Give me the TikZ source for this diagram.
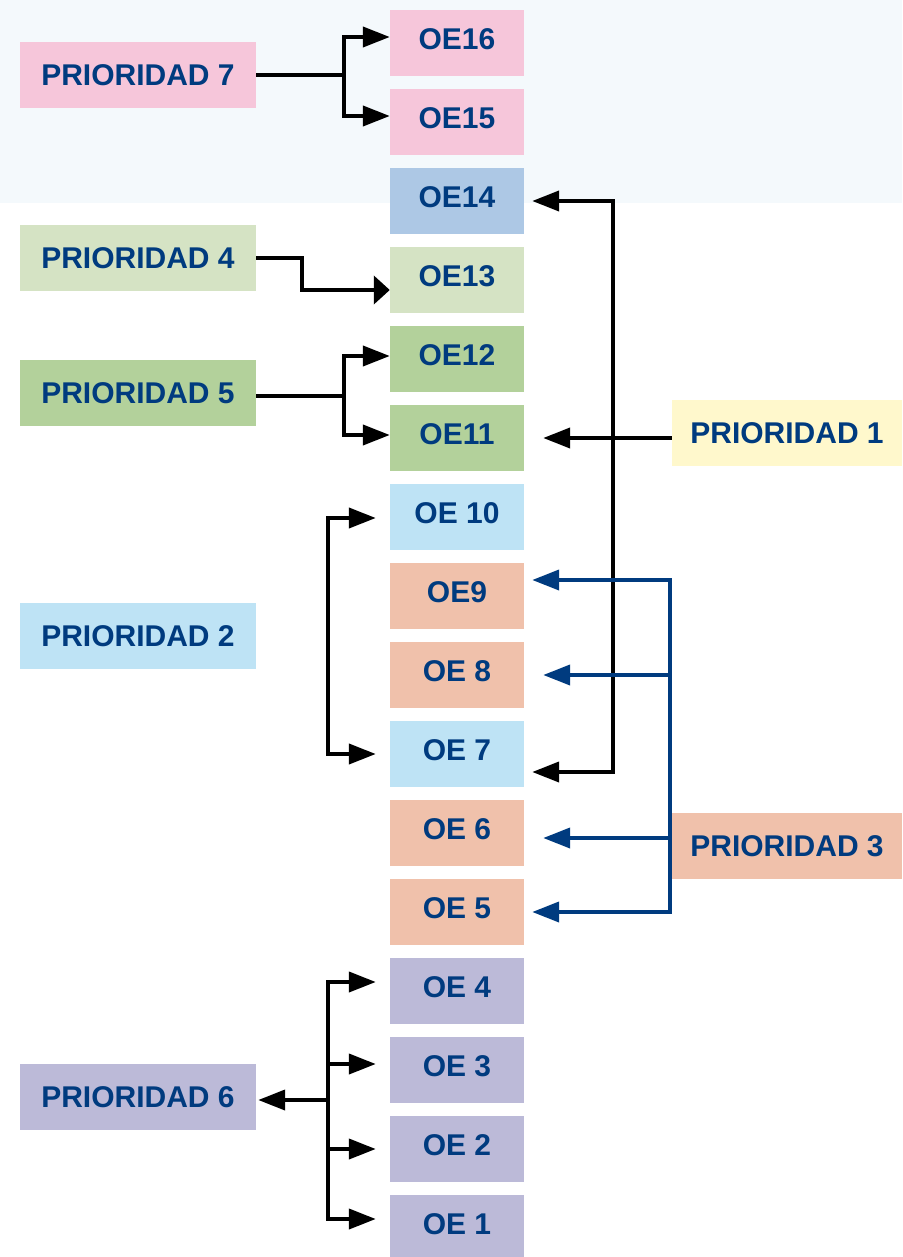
\documentclass[tikz,border=0pt]{standalone}
\usepackage{fontspec}
\setmainfont{Liberation Sans}
\usetikzlibrary{arrows.meta}

\definecolor{oetext}{HTML}{003B7F}
\definecolor{topshade}{HTML}{F4F9FC}
\definecolor{pinkbox}{HTML}{F6C6DA}
\definecolor{steelbox}{HTML}{ADC8E5}
\definecolor{sagebox}{HTML}{D5E3C4}
\definecolor{greenbox}{HTML}{B3D19B}
\definecolor{skybox}{HTML}{BEE3F5}
\definecolor{salmonbox}{HTML}{F0C1AB}
\definecolor{lavbox}{HTML}{BCBAD8}
\definecolor{yellowbox}{HTML}{FFF8CC}

\begin{document}
\begin{tikzpicture}[x=1pt,y=-1pt]
  \useasboundingbox (0,0) rectangle (902,1257);
  \fill[topshade] (0,0) rectangle (902,203);

  \tikzstyle{every node}=[rectangle,inner sep=0pt,text=oetext,
    font=\fontsize{30}{35}\selectfont\bfseries]
  \tikzstyle{oebox}=[minimum width=134pt,minimum height=66pt,text height=21.5pt,text depth=9pt]
  \tikzstyle{priobox}=[minimum width=236pt,minimum height=66pt,text height=21.5pt,text depth=0pt]

%% objective boxes, OE16 at the top down to OE 1
  \foreach \n/\c/\txt in {16/pinkbox/OE16, 15/pinkbox/OE15, 14/steelbox/OE14,
                          13/sagebox/OE13, 12/greenbox/OE12, 11/greenbox/OE11,
                          10/skybox/OE 10, 9/salmonbox/OE9, 8/salmonbox/OE 8,
                          7/skybox/OE 7, 6/salmonbox/OE 6, 5/salmonbox/OE 5,
                          4/lavbox/OE 4, 3/lavbox/OE 3, 2/lavbox/OE 2, 1/lavbox/OE 1}
    \node[oebox,fill=\c] (oe\n) at (457,{43+79*(16-\n)}) {\txt};

%% priority boxes
  \node[priobox,fill=pinkbox]  (prio7) at (138,75)   {PRIORIDAD 7};
  \node[priobox,fill=sagebox]  (prio4) at (138,258)  {PRIORIDAD 4};
  \node[priobox,fill=greenbox] (prio5) at (138,393)  {PRIORIDAD 5};
  \node[priobox,fill=skybox]   (prio2) at (138,636)  {PRIORIDAD 2};
  \node[priobox,fill=lavbox]   (prio6) at (138,1097) {PRIORIDAD 6};
  \node[priobox,minimum width=230pt,fill=yellowbox] (prio1) at (787,433) {PRIORIDAD 1};
  \node[priobox,minimum width=230pt,fill=salmonbox] (prio3) at (787,846) {PRIORIDAD 3};

%% connections
  \tikzstyle{link}=[line width=4pt,-{Triangle[length=27pt,width=20pt]}]
  \tikzstyle{bilink}=[line width=4pt,{Triangle[length=27pt,width=20pt]}-{Triangle[length=27pt,width=20pt]}]
  \tikzstyle{bluelink}=[link,draw=oetext,-{Triangle[length=27pt,width=20pt,fill=oetext]}]

%% prioridad 7, 4, 5
  \draw[link] (prio7.east) -- ++(88,0) |- ([yshift=6pt]oe16.west);
  \draw[link] (prio7.east) -- ++(88,0) |- ([yshift=6pt]oe15.west);
  \draw[line width=4pt,-{Triangle[length=16pt,width=28pt]}]
    (prio4.east) -- ++(46,0) |- ([yshift=-10pt]oe13.west);
  \draw[link] ([yshift=-3pt]prio5.east) -- ++(88,0) |- ([yshift=3pt]oe12.west);
  \draw[link] ([yshift=-3pt]prio5.east) -- ++(88,0) |- ([yshift=3pt]oe11.west);

%% prioridad 2 bracket
  \draw[bilink] ([xshift=-14pt,yshift=-1pt]oe10.west) -- ++(-48,0)
    |- ([xshift=-14pt]oe7.west);

%% prioridad 1
  \draw[link] (prio1.west |- oe11.east) -- ([xshift=19pt]oe11.east);
  \draw[bilink] ([xshift=8pt]oe14.east) -- ++(81,0) |- ([xshift=8pt,yshift=-18pt]oe7.east);

%% prioridad 3
  \foreach \n/\dx/\dy in {9/8pt/16pt, 8/19pt/0pt, 6/19pt/-5pt, 5/8pt/0pt}
    \draw[bluelink] (prio3.west) -- ++(-2,0) |- ([xshift=\dx,yshift=\dy]oe\n.east);

%% prioridad 6
  \coordinate (hub6) at (328,1100);
  \draw[link] (hub6) -- ([xshift=2pt]hub6 -| prio6.east);
  \foreach \n/\dy in {4/9pt, 3/6pt, 2/0pt, 1/9pt}
    \draw[link] (hub6) |- ([xshift=-14pt,yshift=\dy]oe\n.west);
\end{tikzpicture}
\end{document}
